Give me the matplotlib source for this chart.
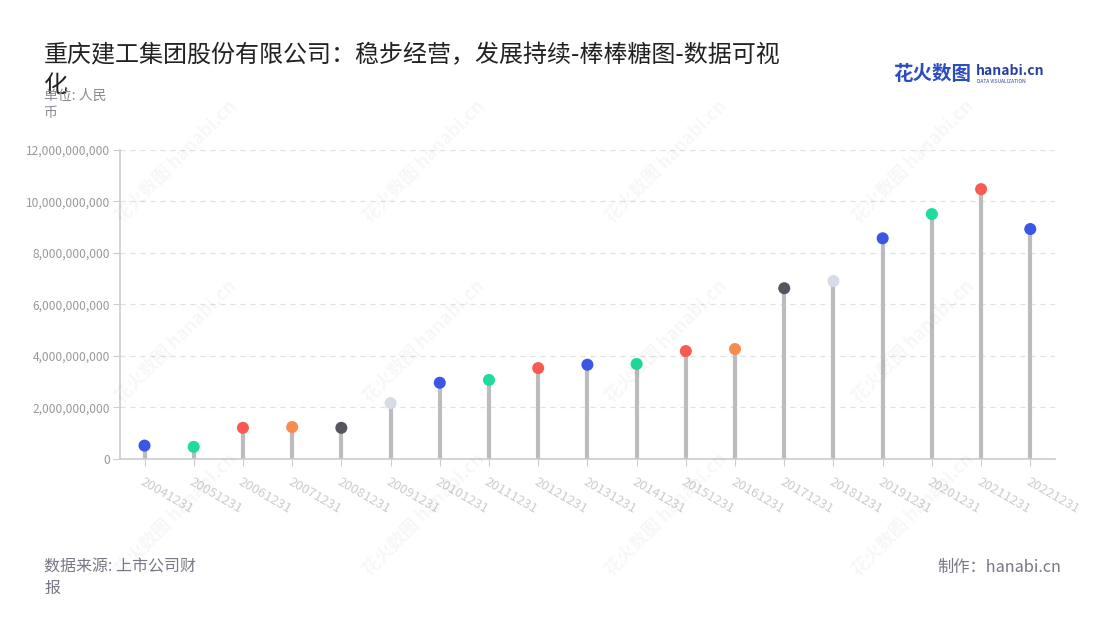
import matplotlib
matplotlib.use("Agg")
import matplotlib.pyplot as plt
from matplotlib.ticker import FuncFormatter

plt.rcParams['font.family'] = ['Noto Sans CJK SC', 'DejaVu Sans']

# data
dates = ['20041231', '20051231', '20061231', '20071231', '20081231', '20091231',
         '20101231', '20111231', '20121231', '20131231', '20141231', '20151231',
         '20161231', '20171231', '20181231', '20191231', '20201231', '20211231',
         '20221231']
values = [0.52e9, 0.47e9, 1.21e9, 1.24e9, 1.21e9, 2.17e9,
          2.96e9, 3.07e9, 3.53e9, 3.66e9, 3.69e9, 4.19e9,
          4.27e9, 6.63e9, 6.91e9, 8.57e9, 9.51e9, 10.48e9, 8.93e9]
dot_colors = ['#3a56e4', '#1fdb9c', '#f85a52', '#f98b4f', '#55555f', '#d6dbe5',
              '#3a56e4', '#1fdb9c', '#f85a52', '#3a56e4', '#1fdb9c', '#f85a52',
              '#f98b4f', '#55555f', '#d6dbe5', '#3a56e4', '#1fdb9c', '#f85a52',
              '#3a56e4']

fig = plt.figure(figsize=(11, 6.2), dpi=100)
ax = fig.add_axes([0.109, 0.2597, 0.85, 0.4984])

x = range(len(dates))
ax.vlines(x, 0, values, color='#bcbcbc', linewidth=3, zorder=2)
ax.scatter(x, values, s=75, c=dot_colors, zorder=3, edgecolors='none')

ax.set_xlim(-0.5, len(dates) - 0.5)
ax.set_ylim(0, 12e9)
ax.set_yticks([0, 2e9, 4e9, 6e9, 8e9, 10e9, 12e9])
ax.yaxis.set_major_formatter(FuncFormatter(lambda v, p: f'{v:,.0f}'))
ax.set_xticks(list(x))
ax.set_xticklabels(dates, rotation=-30, ha='left', va='top',
                   rotation_mode='anchor', color='#b4b9c8', fontsize=9.5)
ax.tick_params(axis='y', colors='#cccccc', labelcolor='#999999', labelsize=8.6,
               length=5, pad=2)
ax.tick_params(axis='x', colors='#cccccc', length=5, pad=7)

ax.grid(axis='y', color='#e0e0e0', linestyle=(0, (4, 4)), linewidth=0.9)
ax.set_axisbelow(True)
for s in ['top', 'right']:
    ax.spines[s].set_visible(False)
for s in ['left', 'bottom']:
    ax.spines[s].set_color('#cccccc')
    ax.spines[s].set_linewidth(1.2)

# watermark
for wx in [0.16, 0.385, 0.605, 0.83]:
    for wy in [0.74, 0.45, 0.17]:
        fig.text(wx, wy, '花火数图 hanabi.cn', rotation=45, fontsize=13,
                 color='#000000', alpha=0.035, ha='center', va='center',
                 fontweight='bold')

fig.text(0.04, 0.887, '重庆建工集团股份有限公司：稳步经营，发展持续-棒棒糖图-数据可视\n化',
         fontsize=17.3, color='#222222', va='center', linespacing=1.2)
fig.text(0.04, 0.832, '单位: 人民\n币', fontsize=10, color='#8a8a96', va='center',
         linespacing=1.25)
fig.text(0.04, 0.068, '数据来源: 上市公司财\n报', fontsize=11.5, color='#777785',
         va='center', linespacing=1.3)
fig.text(0.965, 0.085, '制作：hanabi.cn', fontsize=11.7, color='#777785',
         va='center', ha='right')

# logo
fig.text(0.812, 0.88, '花火数图', fontsize=14, color='#2b4dbf', fontweight='bold',
         va='center')
fig.text(0.887, 0.886, 'hanabi.cn', fontsize=10, color='#2b3fa0', fontweight='bold',
         va='center')
fig.text(0.888, 0.868, 'DATA VISUALIZATION', fontsize=3.5, color='#2b3fa0',
         va='center')

fig.savefig('out.png', dpi=100)
